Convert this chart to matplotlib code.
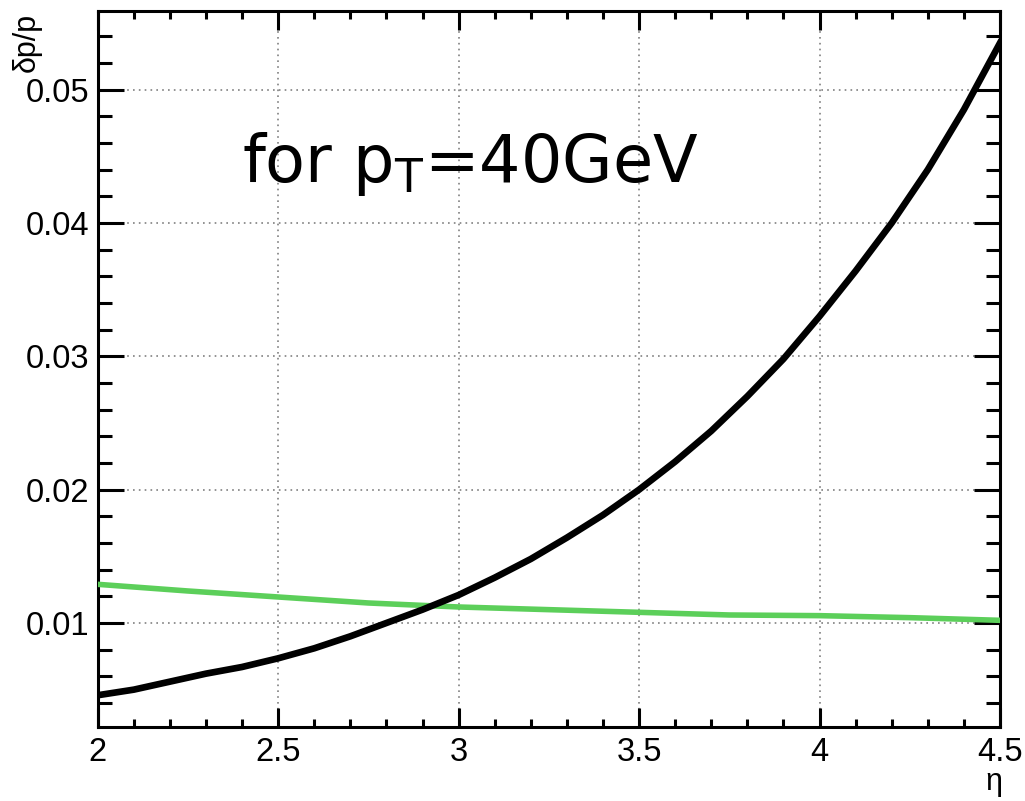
import matplotlib.pyplot as plt
from matplotlib.ticker import MultipleLocator

# values
eta_black = [2.0, 2.1, 2.2, 2.3, 2.4, 2.5, 2.6, 2.7, 2.8, 2.9, 3.0, 3.1, 3.2,
             3.3, 3.4, 3.5, 3.6, 3.7, 3.8, 3.9, 4.0, 4.1, 4.2, 4.3, 4.4, 4.5]
res_black = [0.00458, 0.0050, 0.0056, 0.0062, 0.0067, 0.00735, 0.0081, 0.0090,
             0.0100, 0.0110, 0.0121, 0.0134, 0.0148, 0.0164, 0.0181, 0.0200,
             0.0221, 0.0244, 0.0270, 0.0298, 0.0330, 0.0364, 0.0400, 0.0440,
             0.0485, 0.0535]

eta_green = [2.0, 2.25, 2.5, 2.75, 3.0, 3.25, 3.5, 3.75, 4.0, 4.25, 4.5]
res_green = [0.0129, 0.0124, 0.01195, 0.0115, 0.0112, 0.0110, 0.0108, 0.0106,
             0.01055, 0.0104, 0.0102]

plt.rcParams['font.family'] = ['Liberation Sans', 'DejaVu Sans']

fig = plt.figure(figsize=(10.25, 8.01), dpi=100)
ax = fig.add_axes([0.0953, 0.0924, 0.8803, 0.8939])

ax.plot(eta_green, res_green, color='#5ccf5a', lw=4.0, zorder=3,
        solid_joinstyle='round')
ax.plot(eta_black, res_black, color='black', lw=4.8, zorder=4,
        solid_joinstyle='round')

ax.set_xlim(2, 4.5)
ax.set_ylim(0.0022, 0.0559)

ax.xaxis.set_major_locator(MultipleLocator(0.5))
ax.xaxis.set_minor_locator(MultipleLocator(0.1))
ax.yaxis.set_major_locator(MultipleLocator(0.01))
ax.yaxis.set_minor_locator(MultipleLocator(0.002))
ax.set_xticks([2, 2.5, 3, 3.5, 4, 4.5])
ax.set_xticklabels(['2', '2.5', '3', '3.5', '4', '4.5'])
ax.set_yticks([0.01, 0.02, 0.03, 0.04, 0.05])
ax.set_yticklabels(['0.01', '0.02', '0.03', '0.04', '0.05'])

ax.tick_params(which='both', direction='in', top=True, right=True, width=2.2,
               labelsize=23.5)
ax.tick_params(axis='x', which='major', length=14, pad=7)
ax.tick_params(axis='x', which='minor', length=6)
ax.tick_params(axis='y', which='major', length=19, pad=6)
ax.tick_params(axis='y', which='minor', length=10)

for sp in ax.spines.values():
    sp.set_linewidth(2.2)

ax.grid(True, which='major', linestyle=(0, (1, 2.5)), color='#808080', lw=1.2)

fig.text(242 / 1025, 1 - 181.7 / 801, r'for p$_{\mathrm{T}}$=40GeV',
         fontsize=47, family='DejaVu Sans', va='baseline', ha='left')

fig.text(27 / 1025, 1 - 13 / 801, 'δp/p', rotation=90, ha='center', va='top',
         fontsize=22)
fig.text(1002 / 1025, 1 - 797 / 801, 'η', ha='right', va='bottom', fontsize=22)

fig.savefig('out.png', dpi=100)
